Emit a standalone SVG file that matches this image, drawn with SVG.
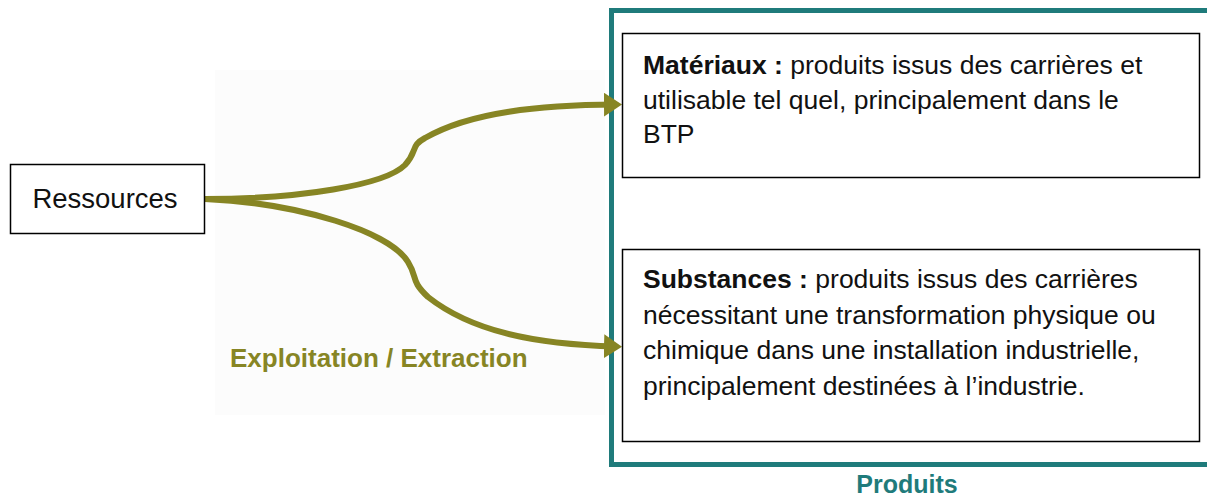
<svg xmlns="http://www.w3.org/2000/svg" width="1207" height="497" viewBox="0 0 1207 497">
<defs>
<style>
.box{fill:#fff;stroke:#000;stroke-width:1.5}
.t{font-family:"Liberation Sans",Arial,sans-serif;font-size:26.5px;fill:#111}
.b{font-weight:bold}
.conn{fill:none;stroke:#878524;stroke-width:6;stroke-linecap:butt}
.lbl{font-family:"Liberation Sans",Arial,sans-serif;font-weight:bold;font-size:26px;fill:#878524}
</style>
<marker id="ah" markerWidth="4" markerHeight="4" refX="2" refY="2" orient="auto" markerUnits="strokeWidth">
<path d="M0,0 L3,2 L0,4 Z" fill="#878524"/>
</marker>
</defs>
<rect width="1207" height="497" fill="#fff"/>
<rect x="215" y="70" width="390" height="345" fill="#fcfcfc"/>
<g id="produits">
<rect x="611.5" y="10.5" width="610" height="454" fill="none" stroke="#1f7b7b" stroke-width="5"/>
<text x="907" y="493" text-anchor="middle" style="font-family:'Liberation Sans',Arial,sans-serif;font-weight:bold;font-size:25px;fill:#1f7b7b">Produits</text>
</g>
<g id="connectors">
<path class="conn" d="M205,199 C300,199 385,185 405,165 C418,151 410,146 425,138 C470,112 540,105 616,104.5" marker-end="url(#ah)"/>
<path class="conn" d="M205,199 C300,203 390,232 408,262 C418,278 410,280 428,297 C470,330 530,344 616,346.5" marker-end="url(#ah)"/>
</g>
<g id="ressources">
<rect class="box" x="10.5" y="164.5" width="194" height="69"/>
<text class="t" x="105" y="208" text-anchor="middle" style="font-size:27.5px">Ressources</text>
</g>
<g id="materiaux">
<rect class="box" x="622.5" y="33.5" width="577" height="144"/>
<text class="t" x="643" y="74"><tspan class="b">Matériaux :</tspan> produits issus des carrières et</text>
<text class="t" x="643" y="108.5">utilisable tel quel, principalement dans le</text>
<text class="t" x="643" y="143">BTP</text>
</g>
<g id="substances">
<rect class="box" x="622.5" y="249.5" width="577" height="192"/>
<text class="t" x="643" y="288"><tspan class="b">Substances :</tspan> produits issus des carrières</text>
<text class="t" x="643" y="323.5">nécessitant une transformation physique ou</text>
<text class="t" x="643" y="359">chimique dans une installation industrielle,</text>
<text class="t" x="643" y="394.5">principalement destinées à l’industrie.</text>
</g>
<text class="lbl" x="230" y="367">Exploitation / Extraction</text>
</svg>
